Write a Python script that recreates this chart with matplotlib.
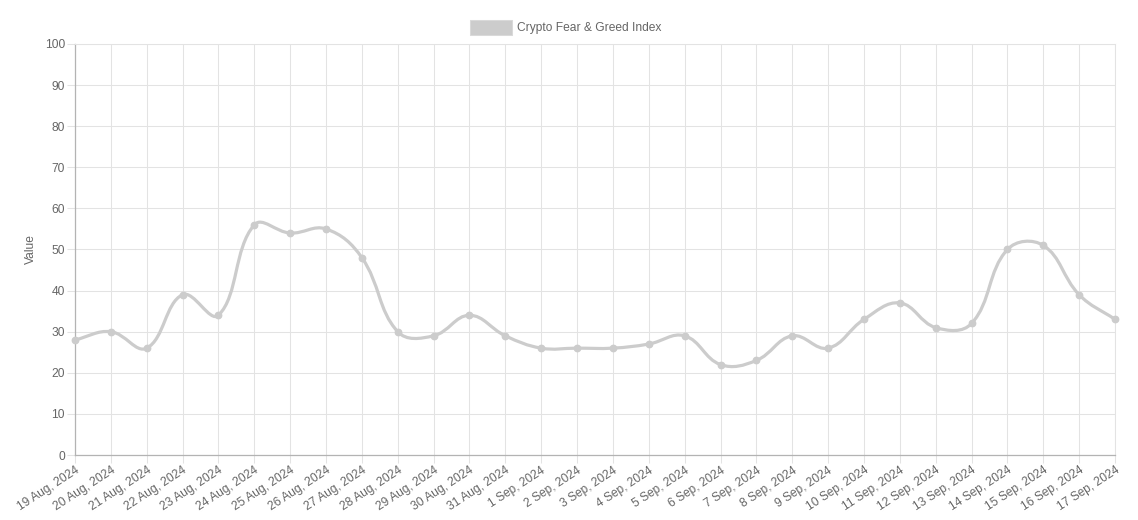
import matplotlib
matplotlib.use("Agg")
import matplotlib.pyplot as plt
from matplotlib.path import Path
from matplotlib.patches import PathPatch, Rectangle
import numpy as np

dates = ["19 Aug, 2024", "20 Aug, 2024", "21 Aug, 2024", "22 Aug, 2024", "23 Aug, 2024",
         "24 Aug, 2024", "25 Aug, 2024", "26 Aug, 2024", "27 Aug, 2024", "28 Aug, 2024",
         "29 Aug, 2024", "30 Aug, 2024", "31 Aug, 2024", "1 Sep, 2024", "2 Sep, 2024",
         "3 Sep, 2024", "4 Sep, 2024", "5 Sep, 2024", "6 Sep, 2024", "7 Sep, 2024",
         "8 Sep, 2024", "9 Sep, 2024", "10 Sep, 2024", "11 Sep, 2024", "12 Sep, 2024",
         "13 Sep, 2024", "14 Sep, 2024", "15 Sep, 2024", "16 Sep, 2024", "17 Sep, 2024"]
values = [28, 30, 26, 39, 34, 56, 54, 55, 48, 30, 29, 34, 29, 26, 26,
          26, 27, 29, 22, 23, 29, 26, 33, 37, 31, 32, 50, 51, 39, 33]
yticks = [0, 10, 20, 30, 40, 50, 60, 70, 80, 90, 100]
series_name = "Crypto Fear & Greed Index"

plt.rcParams['font.family'] = ['Liberation Sans', 'DejaVu Sans']

W, H = 1138, 520
fig = plt.figure(figsize=(W / 100, H / 100), dpi=100)
L, R, T, B = 75, 1115, 44, 455
ax = fig.add_axes([L / W, 1 - B / H, (R - L) / W, (B - T) / H])

n = len(values)
xs = np.arange(n)
ax.set_xlim(0, n - 1)
ax.set_ylim(0, 100)

grid_c = "#e3e3e3"
text_c = "#666666"
line_c = "#cccccc"
fs = 8.64

ax.set_xticks(xs)
ax.set_xticklabels(dates, rotation=33, ha="right", va="top", rotation_mode="anchor",
                   fontsize=fs, color=text_c)
ax.set_yticks(yticks)
ax.set_yticklabels([str(v) for v in yticks], fontsize=fs, color=text_c)
ax.tick_params(axis="both", length=5.8, color=grid_c, width=0.75)
ax.tick_params(axis="x", pad=1)
ax.tick_params(axis="y", pad=1.5)
ax.grid(True, color=grid_c, linewidth=0.75)
ax.set_axisbelow(True)
for s in ["top", "right"]:
    ax.spines[s].set_color(grid_c)
    ax.spines[s].set_linewidth(0.75)
for s in ["left", "bottom"]:
    ax.spines[s].set_color("#b3b3b3")
    ax.spines[s].set_linewidth(0.9)
ax.set_ylabel("Value", fontsize=fs, color=text_c, labelpad=5.5)

# Chart.js-style spline (tension 0.4), computed in pixel space
fig.canvas.draw()
trans = ax.transData
pts = trans.transform(np.column_stack([xs, values]))
t = 0.4
cps_prev = []
cps_next = []
for i in range(n):
    c = pts[i]
    p = pts[i - 1] if i > 0 else c
    nx = pts[i + 1] if i < n - 1 else c
    d01 = np.hypot(*(c - p))
    d12 = np.hypot(*(nx - c))
    tot = d01 + d12
    s01 = d01 / tot if tot else 0
    s12 = d12 / tot if tot else 0
    fa = t * s01
    fb = t * s12
    cps_prev.append(c - fa * (nx - p))
    cps_next.append(c + fb * (nx - p))
verts = [pts[0]]
codes = [Path.MOVETO]
for i in range(n - 1):
    verts += [cps_next[i], cps_prev[i + 1], pts[i + 1]]
    codes += [Path.CURVE4] * 3
verts_data = trans.inverted().transform(np.array(verts))
path = Path(verts_data, codes)
ax.add_patch(PathPatch(path, facecolor="none", edgecolor=line_c, linewidth=2.3,
                       capstyle="round", joinstyle="round", zorder=3, clip_on=False))
ax.plot(xs, values, "o", color=line_c, markersize=4.6, zorder=4, clip_on=False)

# Legend
fig.patches.append(Rectangle((470 / W, 1 - 35 / H), 42 / W, 15 / H,
                             transform=fig.transFigure, facecolor="#cccccc",
                             edgecolor="#d9d9d9", linewidth=0.75))
fig.text(517 / W, 1 - 28 / H, series_name, fontsize=fs, color=text_c,
         ha="left", va="center")

fig.savefig("out.png", dpi=100)
